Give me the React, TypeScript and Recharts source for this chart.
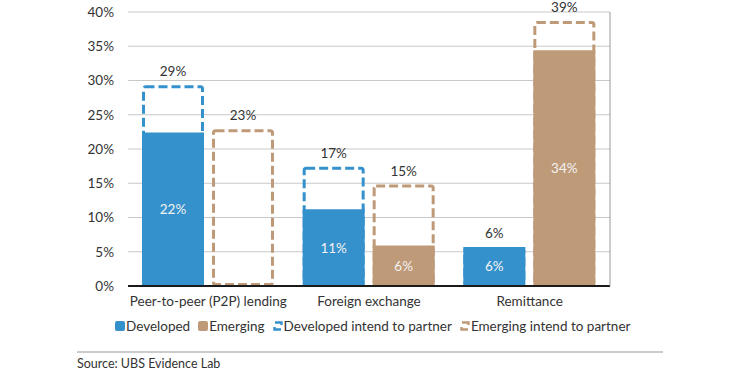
import React from 'react';
import { ComposedChart, Bar, XAxis, YAxis, CartesianGrid, LabelList } from 'recharts';

const categories = ['Peer-to-peer (P2P) lending', 'Foreign exchange', 'Remittance'];
const developed = [22.4, 11.2, 5.7];
const emerging = [0, 5.9, 34.4];
const developedIntend = [29.3, 17.4, 5.7];
const emergingIntend = [22.9, 14.8, 38.7];
const yTicks = [0, 5, 10, 15, 20, 25, 30, 35, 40];

const BLUE = '#3591cc';
const BROWN = '#bf9a78';
const TEXT = '#333333';
const FONT = 'Lato, "Open Sans", sans-serif';
const FS = 13.5;

const data = categories.map((name, i) => ({
  name,
  developed: developed[i],
  emerging: emerging[i],
  developedIntend: developedIntend[i],
  emergingIntend: emergingIntend[i],
}));

const pct = (v: number) => `${v}%`;

const DashedBox = (color: string) => (props: any) => {
  const { x, y, width, height } = props;
  if (!height || height <= 0) return null;
  const s = 3;
  return (
    <rect
      x={x + s / 2}
      y={y + s / 2}
      width={width - s}
      height={height - s}
      rx={2}
      fill="none"
      stroke={color}
      strokeWidth={s}
      strokeDasharray="9 4"
    />
  );
};

const insideLabel = (props: any) => {
  const { x, y, width, height, value } = props;
  if (!value) return null;
  return (
    <text
      x={x + width / 2}
      y={y + height / 2}
      textAnchor="middle"
      dominantBaseline="central"
      fill="#f2f2f2"
      fontSize={FS}
      fontFamily={FONT}
    >
      {`${Math.round(value)}%`}
    </text>
  );
};

const topLabel = (props: any) => {
  const { x, y, width, value } = props;
  if (!value) return null;
  return (
    <text
      x={x + width / 2}
      y={y - 9}
      textAnchor="middle"
      fill={TEXT}
      fontSize={FS}
      fontFamily={FONT}
    >
      {`${Math.round(value)}%`}
    </text>
  );
};

const CategoryTick = (props: any) => {
  const { x, y, payload } = props;
  return (
    <text x={x} y={y} dy={20} textAnchor="middle" fill={TEXT} fontSize={FS} fontFamily={FONT}>
      {payload.value}
    </text>
  );
};

const SolidIcon = ({ color }: { color: string }) => (
  <svg width={10} height={10} style={{ display: 'block' }}>
    <rect x={0} y={0} width={10} height={10} rx={2} fill={color} />
  </svg>
);

const DashIcon = ({ color }: { color: string }) => (
  <svg width={10} height={10} style={{ display: 'block' }}>
    <path d="M2 1.5 H8.5 V4" fill="none" stroke={color} strokeWidth={2.4} />
    <path d="M8 8.5 H1.5 V6" fill="none" stroke={color} strokeWidth={2.4} />
  </svg>
);

const legendItems = [
  { label: 'Developed', icon: <SolidIcon color={BLUE} /> },
  { label: 'Emerging', icon: <SolidIcon color={BROWN} /> },
  { label: 'Developed intend to partner', icon: <DashIcon color={BLUE} /> },
  { label: 'Emerging intend to partner', icon: <DashIcon color={BROWN} /> },
];

export default function App() {
  return (
    <div style={{ position: 'absolute', left: 0, top: 0, width: 740, height: 385, background: '#fff', fontFamily: FONT }}>
      <ComposedChart
        width={740}
        height={385}
        data={data}
        margin={{ top: 12, right: 0, left: 0, bottom: 69 }}
        barSize={62}
        barGap={8}
      >
        <CartesianGrid horizontal vertical={false} stroke="#c9c9c9" yAxisId="left" xAxisId="solid" />
        <XAxis xAxisId="dash" dataKey="name" orientation="top" hide />
        <XAxis
          xAxisId="solid"
          dataKey="name"
          orientation="bottom"
          height={30}
          tickLine={false}
          tickSize={0}
          tickMargin={0}
          axisLine={{ stroke: '#1a1a1a', strokeWidth: 2 }}
          tick={<CategoryTick />}
        />
        <YAxis
          yAxisId="left"
          orientation="left"
          width={128}
          domain={[0, 40]}
          ticks={yTicks}
          tickFormatter={pct}
          axisLine={false}
          tickLine={false}
          tickSize={6}
          tickMargin={8}
          tick={{ fill: TEXT, fontSize: FS, fontFamily: FONT }}
        />
        <YAxis
          yAxisId="right"
          orientation="right"
          width={130}
          domain={[0, 40]}
          ticks={yTicks}
          tickFormatter={pct}
          axisLine={{ stroke: '#9a9a9a' }}
          tickLine={{ stroke: '#9a9a9a' }}
          tickSize={4}
          tickMargin={6}
          tick={{ fill: TEXT, fontSize: FS, fontFamily: FONT }}
        />
        <Bar xAxisId="dash" yAxisId="left" dataKey="developedIntend" shape={DashedBox(BLUE)} isAnimationActive={false}>
          <LabelList dataKey="developedIntend" content={topLabel} />
        </Bar>
        <Bar xAxisId="dash" yAxisId="left" dataKey="emergingIntend" shape={DashedBox(BROWN)} isAnimationActive={false}>
          <LabelList dataKey="emergingIntend" content={topLabel} />
        </Bar>
        <Bar xAxisId="solid" yAxisId="left" dataKey="developed" fill={BLUE} isAnimationActive={false}>
          <LabelList dataKey="developed" content={insideLabel} />
        </Bar>
        <Bar xAxisId="solid" yAxisId="left" dataKey="emerging" fill={BROWN} isAnimationActive={false}>
          <LabelList dataKey="emerging" content={insideLabel} />
        </Bar>
      </ComposedChart>
      <div
        style={{
          position: 'absolute',
          left: 115,
          top: 318,
          display: 'flex',
          alignItems: 'center',
          fontSize: FS,
          color: TEXT,
          whiteSpace: 'nowrap',
        }}
      >
        {legendItems.map((it) => (
          <div key={it.label} style={{ display: 'flex', alignItems: 'center', marginRight: 8 }}>
            {it.icon}
            <span style={{ marginLeft: 1 }}>{it.label}</span>
          </div>
        ))}
      </div>
      <div style={{ position: 'absolute', left: 77, top: 351, width: 586, height: 2, background: '#cccccc' }} />
      <div style={{ position: 'absolute', left: 77, top: 356, fontSize: 12.5, color: TEXT }}>Source: UBS Evidence Lab</div>
    </div>
  );
}
